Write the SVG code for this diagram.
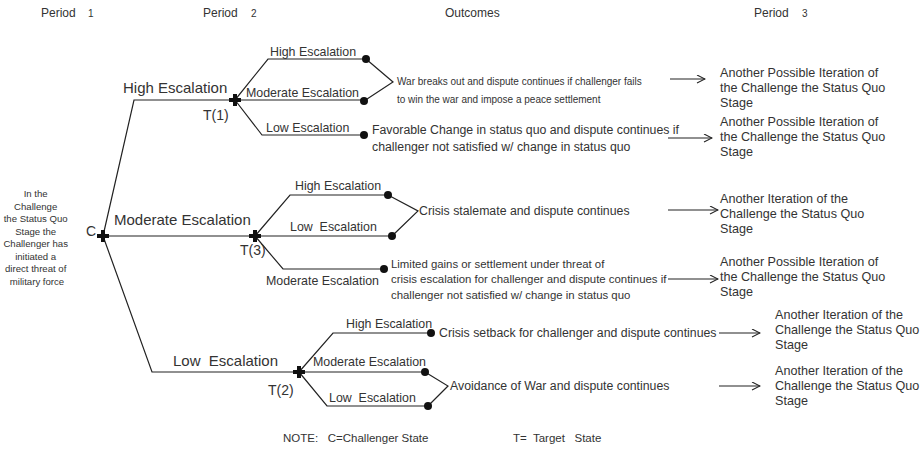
<svg xmlns="http://www.w3.org/2000/svg" width="923" height="449" viewBox="0 0 923 449">
<style>
text{font-family:"Liberation Sans",Arial,sans-serif;fill:#333}
.hd{font-size:12px}
.dg{font-size:10px}
.l1{font-size:15px}
.l2{font-size:12.4px}
.oc{font-size:12.3px}
.sm{font-size:10px}
.lim{font-size:11.4px}
.p3{font-size:12.6px}
.lt{font-size:9.6px}
.tl{font-size:14px}
.note{font-size:11.5px}
.ln{fill:none;stroke:#222;stroke-width:1.2}
.ar{fill:none;stroke:#222;stroke-width:1.2}
.dot{fill:#111}
</style>
<defs>
<g id="cross"><path d="M-6,0H6M0,-6V6" stroke="#111" stroke-width="4"/><rect x="-3" y="-3" width="6" height="6" fill="#111" transform="rotate(45)"/></g>
<marker id="ah" markerWidth="10" markerHeight="10" refX="9" refY="4.5" orient="auto" markerUnits="userSpaceOnUse"><path d="M1,0.5L9,4.5L1,8.5" fill="none" stroke="#222" stroke-width="1.1"/></marker>
</defs>

<g id="headers">
<text class="hd" x="41" y="17">Period<tspan class="dg" x="88">1</tspan></text>
<text class="hd" x="203" y="17">Period<tspan class="dg" x="251">2</tspan></text>
<text class="hd" x="445" y="17">Outcomes</text>
<text class="hd" x="754" y="17">Period<tspan class="dg" x="802">3</tspan></text>
</g>

<g id="connectors">
<path class="ln" d="M103,236L134,100H235"/>
<path class="ln" d="M103,236H255"/>
<path class="ln" d="M103,236L152,372H299"/>
<path class="ln" d="M235,100L268,59H366M235,100H364M235,100L262,135H364"/>
<path class="ln" d="M366,59L393,82L364,101"/>
<path class="ln" d="M255,236L290,195H388M255,236H392M255,236L283,269H384"/>
<path class="ln" d="M388,195L418,211L392,236"/>
<path class="ln" d="M299,372L333,333H431M299,372H425M299,372L327,406H428"/>
<path class="ln" d="M425,372L448,386L428,406"/>
<path class="ar" d="M670,79H705" marker-end="url(#ah)"/>
<path class="ar" d="M668,138H712" marker-end="url(#ah)"/>
<path class="ar" d="M668,210H718" marker-end="url(#ah)"/>
<path class="ar" d="M668,279H718" marker-end="url(#ah)"/>
<path class="ar" d="M719,333H760" marker-end="url(#ah)"/>
<path class="ar" d="M719,386H760" marker-end="url(#ah)"/>
</g>

<g id="start">
<text class="lt" text-anchor="middle" x="37">
<tspan x="37" y="197">In the</tspan>
<tspan x="37" y="209.5">Challenge</tspan>
<tspan x="37" y="222">the Status Quo</tspan>
<tspan x="37" y="234.5">Stage the</tspan>
<tspan x="37" y="247">Challenger has</tspan>
<tspan x="37" y="259.5">initiated a</tspan>
<tspan x="37" y="272">direct threat of</tspan>
<tspan x="37" y="284.5">military force</tspan>
</text>
</g>

<g id="node-C">
<use href="#cross" x="103" y="236"/>
<text class="tl" x="86" y="236" font-size="13">C</text>
</g>

<g id="node-T1">
<use href="#cross" x="235" y="100"/>
<text class="tl" x="203" y="120">T(1)</text>
</g>
<g id="node-T3">
<use href="#cross" x="255" y="236"/>
<text class="tl" x="240" y="255">T(3)</text>
</g>
<g id="node-T2">
<use href="#cross" x="299" y="372"/>
<text class="tl" x="268" y="395">T(2)</text>
</g>

<g id="labels-level1">
<text class="l1" x="123" y="93">High Escalation</text>
<text class="l1" x="114" y="225">Moderate Escalation</text>
<text class="l1" x="173" y="366" xml:space="preserve">Low  Escalation</text>
</g>

<g id="labels-T1">
<text class="l2" x="270" y="56">High Escalation</text>
<text class="l2" x="246" y="97">Moderate Escalation</text>
<text class="l2" x="266" y="132">Low Escalation</text>
</g>
<g id="labels-T3">
<text class="l2" x="295" y="190">High Escalation</text>
<text class="l2" x="290" y="231" xml:space="preserve">Low  Escalation</text>
<text class="l2" x="266" y="285">Moderate Escalation</text>
</g>
<g id="labels-T2">
<text class="l2" x="346" y="328">High Escalation</text>
<text class="l2" x="313" y="366">Moderate Escalation</text>
<text class="l2" x="329" y="402" xml:space="preserve">Low  Escalation</text>
</g>

<g id="dots">
<circle class="dot" cx="366" cy="59" r="4"/>
<circle class="dot" cx="364" cy="101" r="4"/>
<circle class="dot" cx="364" cy="135" r="4"/>
<circle class="dot" cx="388" cy="195" r="4"/>
<circle class="dot" cx="392" cy="236" r="4"/>
<circle class="dot" cx="384" cy="269" r="4"/>
<circle class="dot" cx="431" cy="333" r="4"/>
<circle class="dot" cx="425" cy="372" r="4"/>
<circle class="dot" cx="428" cy="406" r="4"/>
</g>

<g id="outcome-war">
<text class="sm" x="397" y="85">War breaks out and dispute continues if challenger fails</text>
<text class="sm" x="397" y="103">to win the war and impose a peace settlement</text>
</g>
<g id="outcome-favorable">
<text class="oc" x="372" y="134">Favorable Change in status quo and dispute continues if</text>
<text class="oc" x="372" y="151">challenger not satisfied w/ change in status quo</text>
</g>
<g id="outcome-stalemate">
<text class="oc" x="419" y="215" font-size="12.7">Crisis stalemate and dispute continues</text>
</g>
<g id="outcome-limited">
<text class="lim" x="391" y="268">Limited gains or settlement under threat of</text>
<text class="lim" x="391" y="283">crisis escalation for challenger and dispute continues if</text>
<text class="lim" x="391" y="299">challenger not satisfied w/ change in status quo</text>
</g>
<g id="outcome-setback">
<text class="oc" x="439" y="337" font-size="11.3">Crisis setback for challenger and dispute continues</text>
</g>
<g id="outcome-avoidance">
<text class="oc" x="450" y="390" font-size="12.6">Avoidance of War and dispute continues</text>
</g>

<g id="period3-1">
<text class="p3"><tspan x="720" y="77">Another Possible Iteration of</tspan><tspan x="720" y="92">the Challenge the Status Quo</tspan><tspan x="720" y="107">Stage</tspan></text>
</g>
<g id="period3-2">
<text class="p3"><tspan x="720" y="126">Another Possible Iteration of</tspan><tspan x="720" y="141">the Challenge the Status Quo</tspan><tspan x="720" y="156">Stage</tspan></text>
</g>
<g id="period3-3">
<text class="p3"><tspan x="720" y="203">Another Iteration of the</tspan><tspan x="720" y="218">Challenge the Status Quo</tspan><tspan x="720" y="233">Stage</tspan></text>
</g>
<g id="period3-4">
<text class="p3"><tspan x="720" y="266">Another Possible Iteration of</tspan><tspan x="720" y="281">the Challenge the Status Quo</tspan><tspan x="720" y="296">Stage</tspan></text>
</g>
<g id="period3-5">
<text class="p3"><tspan x="775" y="319">Another Iteration of the</tspan><tspan x="775" y="334">Challenge the Status Quo</tspan><tspan x="775" y="349">Stage</tspan></text>
</g>
<g id="period3-6">
<text class="p3"><tspan x="775" y="375">Another Iteration of the</tspan><tspan x="775" y="390">Challenge the Status Quo</tspan><tspan x="775" y="405">Stage</tspan></text>
</g>

<g id="note">
<text class="note" x="283" y="442" xml:space="preserve">NOTE:   C=Challenger State</text>
<text class="note" x="513" y="442" xml:space="preserve">T=  Target   State</text>
</g>
</svg>
